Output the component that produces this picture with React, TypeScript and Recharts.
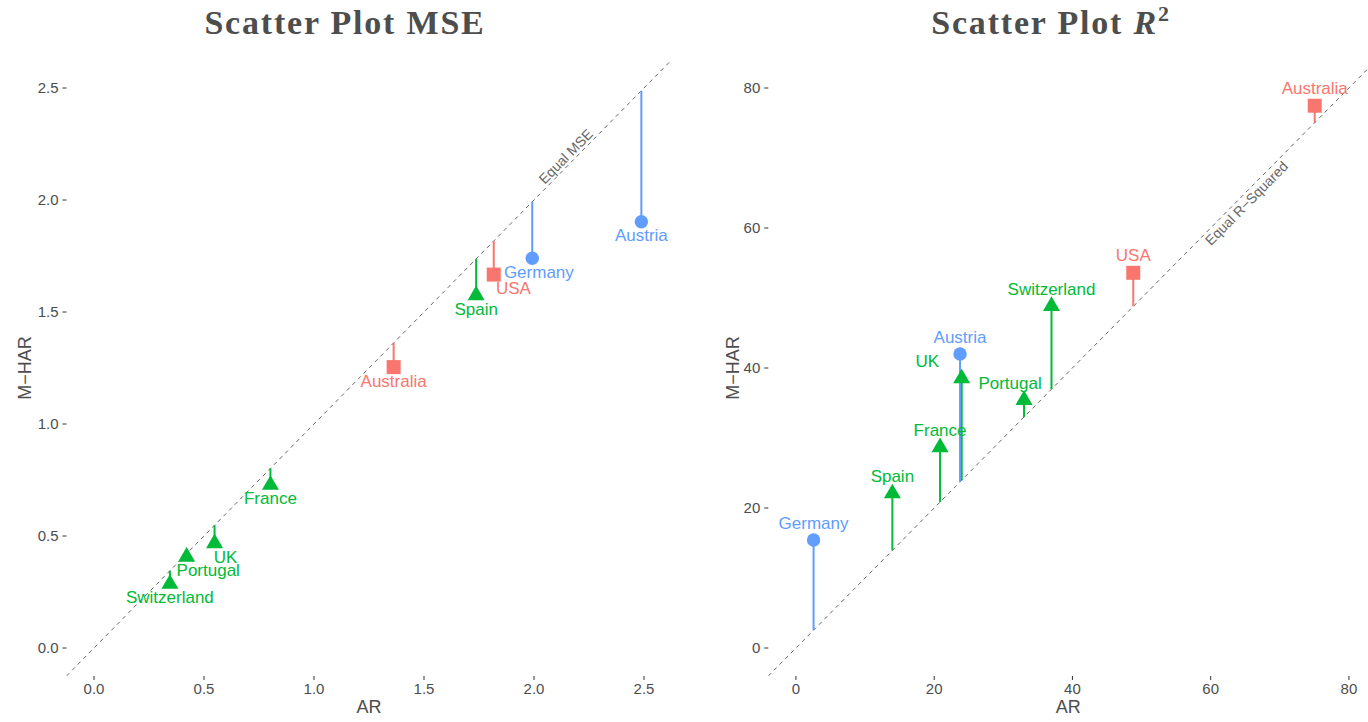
import React from 'react';
import { ScatterChart, Scatter, XAxis, YAxis } from 'recharts';

// ---- data ----
const countries = ['Australia', 'USA', 'Spain', 'France', 'UK', 'Portugal', 'Switzerland', 'Germany', 'Austria'];
const countryGroup = ['Anglo', 'Anglo', 'Europe', 'Europe', 'Europe', 'Europe', 'Europe', 'Germanic', 'Germanic'];
const mseAR = [1.362, 1.817, 1.737, 0.802, 0.548, 0.421, 0.345, 1.992, 2.488];
const mseMHAR = [1.254, 1.667, 1.574, 0.728, 0.467, 0.407, 0.286, 1.740, 1.903];
const r2AR = [75.05, 48.8, 13.95, 20.85, 23.98, 33.0, 36.97, 2.55, 23.74];
const r2MHAR = [77.47, 53.6, 22.08, 28.66, 38.51, 35.43, 48.86, 15.43, 42.0];
const mseTicks = [0, 0.5, 1, 1.5, 2, 2.5];
const r2Ticks = [0, 20, 40, 60, 80];
const mseXDomain = [-0.125, 2.625];
const mseYDomain = [-0.125, 2.625];
const r2XDomain = [-4, 82.76];
const r2YDomain = [-4, 84];

// ---- styles ----
const groupColor: Record<string, string> = { Anglo: '#F8766D', Europe: '#00BA38', Germanic: '#619CFF' };
const groupShape: Record<string, string> = { Anglo: 'square', Europe: 'triangle', Germanic: 'circle' };
const groups = ['Anglo', 'Europe', 'Germanic'];
const mseLabelDx: Record<string, number> = { Germany: 6.6, USA: 19.7, UK: 11, Portugal: 21.6 };
const r2LabelDx: Record<string, number> = { UK: -34.4, Portugal: -14 };
const SANS = 'Liberation Sans, Arial, Helvetica, sans-serif';
const TEXT = '#4d4d4d';

const hidden = () => <g />;

const makeSymbol = (group: string) => (p: any) => {
  const { cx, cy } = p;
  const color = groupColor[group];
  const kind = groupShape[group];
  if (kind === 'circle') return <circle cx={cx} cy={cy} r={6.7} fill={color} />;
  if (kind === 'square') return <rect x={cx - 7} y={cy - 7} width={14} height={14} fill={color} />;
  const r = 9.8;
  const hw = 8.5;
  return <polygon points={`${cx},${cy - r} ${cx + hw},${cy + r / 2} ${cx - hw},${cy + r / 2}`} fill={color} />;
};

const makeLabel = (dxMap: Record<string, number>, baseOffset: number) => (p: any) => {
  const { cx, cy } = p;
  const d = p.payload ?? p;
  const dx = dxMap[d.name] ?? 0;
  return (
    <text x={cx + dx} y={cy + baseOffset} textAnchor="middle" fontSize={17} fontFamily={SANS} fill={groupColor[d.group]}>
      {d.name}
    </text>
  );
};

const makeDiagText = (text: string, angle: number, dy: number) => (p: any) => {
  const { cx, cy } = p;
  return (
    <text
      x={cx}
      y={cy}
      dy={dy}
      textAnchor="middle"
      fontSize={14}
      fontFamily={SANS}
      fill="#666"
      transform={`rotate(${angle}, ${cx}, ${cy})`}
    >
      {text}
    </text>
  );
};

const makeYLabel = (xCenter: number) => (p: any) => {
  const vb = p.viewBox || {};
  const x = (vb.x ?? 0) + xCenter;
  const y = (vb.y ?? 0) + (vb.height ?? 0) / 2;
  return (
    <text x={x} y={y} textAnchor="middle" dominantBaseline="central" fontSize={18} fontFamily={SANS} fill={TEXT} transform={`rotate(-90, ${x}, ${y})`}>
      M−HAR
    </text>
  );
};

type PanelProps = {
  ar: number[];
  mhar: number[];
  xDomain: number[];
  yDomain: number[];
  ticks: number[];
  fmt: (v: number) => string;
  labelOffset: number;
  labelDx: Record<string, number>;
  diagText: string;
  diagAt: number;
  diagAngle: number;
  diagDy: number;
  yAxisWidth: number;
  yLabelX: number;
  marginRight: number;
};

function Panel(props: PanelProps) {
  const { ar, mhar, xDomain, yDomain, ticks, fmt, labelOffset, labelDx, diagText, diagAt, diagAngle, diagDy, yAxisWidth, yLabelX, marginRight } = props;
  const rows = countries.map((name, i) => ({ name, group: countryGroup[i], x: ar[i], y: mhar[i] }));
  const diag = [
    { x: xDomain[0], y: xDomain[0] },
    { x: Math.min(xDomain[1], yDomain[1]), y: Math.min(xDomain[1], yDomain[1]) },
  ];
  const tickStyle = { fill: TEXT, fontSize: 15, fontFamily: SANS };
  return (
    <ScatterChart width={684} height={722} margin={{ top: 60, right: marginRight, bottom: 0, left: 0 }}>
      <XAxis
        type="number"
        dataKey="x"
        domain={xDomain}
        ticks={ticks}
        allowDataOverflow
        axisLine={false}
        tickLine={{ stroke: '#333' }}
        tickSize={4}
        tickMargin={3}
        tick={tickStyle}
        tickFormatter={fmt}
        height={46}
        label={{ value: 'AR', position: 'insideBottom', offset: 9, fontSize: 18, fontFamily: SANS, fill: TEXT }}
      />
      <YAxis
        type="number"
        dataKey="y"
        domain={yDomain}
        ticks={ticks}
        allowDataOverflow
        axisLine={false}
        tickLine={{ stroke: '#333' }}
        tickSize={4}
        tickMargin={4}
        tick={tickStyle}
        tickFormatter={fmt}
        width={yAxisWidth}
        label={makeYLabel(yLabelX)}
      />
      <Scatter data={diag} line={{ stroke: '#666', strokeWidth: 1, strokeDasharray: '4 4' }} shape={hidden} isAnimationActive={false} />
      {rows.map((r) => (
        <Scatter
          key={'seg-' + r.name}
          data={[{ x: r.x, y: r.y }, { x: r.x, y: r.x }]}
          line={{ stroke: groupColor[r.group], strokeWidth: 2 }}
          shape={hidden}
          isAnimationActive={false}
        />
      ))}
      {groups.map((g) => (
        <Scatter key={'pts-' + g} data={rows.filter((r) => r.group === g)} shape={makeSymbol(g)} isAnimationActive={false} />
      ))}
      <Scatter data={rows} shape={makeLabel(labelDx, labelOffset)} isAnimationActive={false} />
      <Scatter data={[{ x: diagAt, y: diagAt }]} shape={makeDiagText(diagText, diagAngle, diagDy)} isAnimationActive={false} />
    </ScatterChart>
  );
}

export default function App() {
  return (
    <div style={{ position: 'absolute', left: 0, top: 0, width: 1368, height: 722, background: '#fff', overflow: 'hidden' }}>
      <svg width={1368} height={722} style={{ position: 'absolute', left: 0, top: 0 }}>
        <text x={345} y={33.5} textAnchor="middle" fontFamily="Liberation Serif, serif" fontWeight="bold" fontSize={34} letterSpacing={1.8} fill={TEXT}>
          Scatter Plot MSE
        </text>
        <text x={1051} y={33.5} textAnchor="middle" fontFamily="Liberation Serif, serif" fontWeight="bold" fontSize={34} letterSpacing={1.8} fill={TEXT}>
          Scatter Plot <tspan fontStyle="italic">R</tspan>
          <tspan fontSize={22} dy={-13}>2</tspan>
        </text>
      </svg>
      <div style={{ position: 'absolute', left: 0, top: 0 }}>
        <Panel
          ar={mseAR}
          mhar={mseMHAR}
          xDomain={mseXDomain}
          yDomain={mseYDomain}
          ticks={mseTicks}
          fmt={(v) => v.toFixed(1)}
          labelOffset={19.5}
          labelDx={mseLabelDx}
          diagText="Equal MSE"
          diagAt={2.17}
          diagAngle={-45.52}
          diagDy={-3}
          yAxisWidth={66.5}
          yLabelX={24.5}
          marginRight={12.5}
        />
      </div>
      <div style={{ position: 'absolute', left: 684, top: 0 }}>
        <Panel
          ar={r2AR}
          mhar={r2MHAR}
          xDomain={r2XDomain}
          yDomain={r2YDomain}
          ticks={r2Ticks}
          fmt={(v) => String(v)}
          labelOffset={-11.4}
          labelDx={r2LabelDx}
          diagText="Equal R−Squared"
          diagAt={64.35}
          diagAngle={-45.36}
          diagDy={13}
          yAxisWidth={84.3}
          yLabelX={49}
          marginRight={0}
        />
      </div>
    </div>
  );
}
